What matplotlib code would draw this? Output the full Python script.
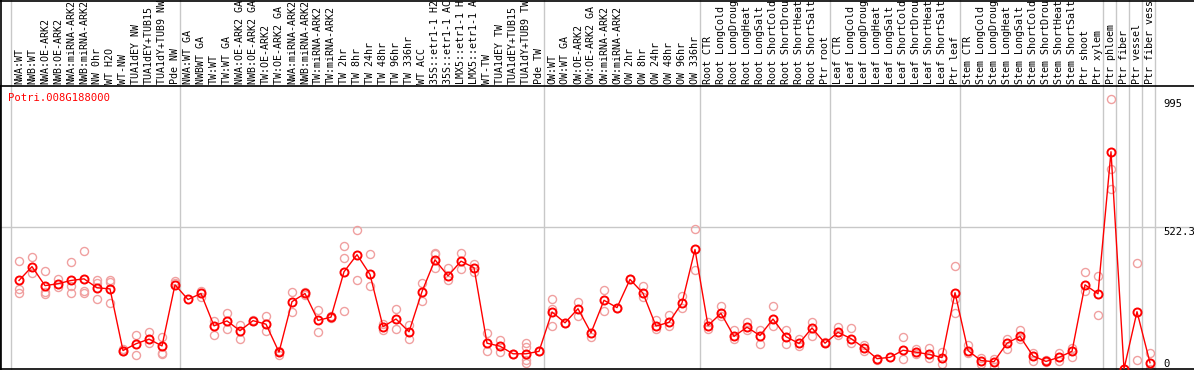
import matplotlib
matplotlib.use('Agg')
import matplotlib.pyplot as plt
from matplotlib.lines import Line2D
import matplotlib.transforms as mtransforms

gene = 'Potri.008G188000'

samples = ['NWA:WT', 'NWB:WT', 'NWA:OE-ARK2', 'NWB:OE-ARK2', 'NWA:miRNA-ARK2', 'NWB:miRNA-ARK2',
           'NW 0hr', 'WT H2O', 'WT-NW', 'TUA1dEY NW', 'TUA1dEY+TUB15', 'TUA1dY+TUB9 NW', 'Pde NW',
           'NWA:WT GA', 'NWBWT GA', 'TW:WT', 'TW:WT GA', 'NWA:OE-ARK2 GA', 'NWB:OE-ARK2 GA',
           'TW:OE-ARK2', 'TW:OE-ARK2 GA', 'NWA:miRNA-ARK2', 'NWB:miRNA-ARK2', 'TW:miRNA-ARK2',
           'TW:miRNA-ARK2', 'TW 2hr', 'TW 8hr', 'TW 24hr', 'TW 48hr', 'TW 96hr', 'TW 336hr', 'WT ACC',
           '35S::etr1-1 H2O', '35S::etr1-1 ACC', 'LMX5::etr1-1 H2O', 'LMX5::etr1-1 ACC', 'WT-TW',
           'TUA1dEY TW', 'TUA1dEY+TUB15', 'TUA1dY+TUB9 TW', 'Pde TW',
           'OW:WT', 'OW:WT GA', 'OW:OE-ARK2', 'OW:OE-ARK2 GA', 'OW:miRNA-ARK2', 'OW:miRNA-ARK2',
           'OW 2hr', 'OW 8hr', 'OW 24hr', 'OW 48hr', 'OW 96hr', 'OW 336hr',
           'Root CTR', 'Root LongCold', 'Root LongDrought', 'Root LongHeat', 'Root LongSalt',
           'Root ShortCold', 'Root ShortDrought', 'Root ShortHeat', 'Root ShortSalt', 'Ptr root',
           'Leaf CTR', 'Leaf LongCold', 'Leaf LongDrought', 'Leaf LongHeat', 'Leaf LongSalt',
           'Leaf ShortCold', 'Leaf ShortDrought', 'Leaf ShortHeat', 'Leaf ShortSalt', 'Ptr leaf',
           'Stem CTR', 'Stem LongCold', 'Stem LongDrought', 'Stem LongHeat', 'Stem LongSalt',
           'Stem ShortCold', 'Stem ShortDrought', 'Stem ShortHeat', 'Stem ShortSalt', 'Ptr shoot',
           'Ptr xylem', 'Ptr phloem', 'Ptr fiber', 'Ptr vessel', 'Ptr fiber vessel']

# index of first sample in each block (last entry = end)
group_starts = [0, 13, 41, 53, 63, 73, 84, 85, 86, 87, 88]

means = [326, 377, 307, 314, 326, 332, 299, 295, 68, 93, 110, 85, 310,
         256, 278, 159, 177, 141, 178, 165, 62, 248, 278, 179, 191, 358, 421, 348, 156, 184,
         137, 285, 402, 343, 397, 373, 95, 84, 56, 56, 65,
         210, 170, 222, 133, 253, 226, 330, 279, 158, 172, 243, 440,
         160, 205, 120, 154, 123, 184, 119, 94, 151, 95,
         135, 112, 78, 38, 43, 69, 62, 54, 42, 281,
         68, 31, 27, 95, 120, 48, 28, 43, 65, 310, 277,
         800, 0, 211, 23]

reps = [[399, 295, 280], [411, 354], [359, 285, 275], [330, 301], [393, 305, 280],
        [436, 286, 278], [328, 317, 258], [327, 320, 243], [72, 66], [125, 53],
        [136, 97], [119, 60, 56], [323, 318],
        [], [288, 265], [177, 125], [206, 149], [162, 112], [182], [196, 140], [52, 66],
        [285, 209], [282, 274], [219, 136], [195, 186], [454, 410, 215], [511, 328],
        [425, 306], [164, 144], [222, 147], [162, 110], [315, 251], [428, 422, 371],
        [371, 326], [428, 370], [388, 357], [132, 68], [107, 63], [56], [97, 80, 33, 21], [65],
        [258, 221, 159], [170], [248, 194], [117], [291, 212], [224], [330], [306, 264],
        [179, 146], [197, 157], [267, 226], [517, 363],
        [174, 148], [232, 194], [143, 110], [174, 142], [144, 93], [231, 159], [142, 93],
        [110, 85], [173, 121], [100],
        [156, 126], [152, 95], [90, 67], [32], [], [119, 36], [73, 54], [78, 42], [62, 19],
        [378, 258, 207],
        [89, 58], [40, 19], [38, 7], [110, 74], [142, 109], [59, 30], [34, 24], [59, 30],
        [78, 43], [358, 288], [341, 199],
        [995, 736, 663], [], [389, 32], [58, 0]]

yticks = [995, 522.3, 0]
ytick_labels = ['995', '522.3', '0']

W, H = 1194, 370
fig = plt.figure(figsize=(W / 100, H / 100), dpi=100)
fig.patch.set_facecolor('white')

top_px, bot_px = 86, 369
ax = fig.add_axes([0, (H - bot_px) / H, 1, (bot_px - top_px) / H])
ax.set_xlim(-19 / 13, (W - 19) / 13)
ax.set_ylim(0, 1042)
ax.set_xticks([])
ax.set_yticks([])
for s in ['left', 'top', 'bottom']:
    ax.spines[s].set_color('black')
    ax.spines[s].set_linewidth(1.2)
ax.spines['right'].set_visible(False)

mono = 'DejaVu Sans Mono'
trans = mtransforms.blended_transform_factory(ax.transData, ax.transAxes)

# block separators (run up through the label area)
for b in group_starts:
    ax.plot([b - 0.65, b - 0.65], [0, 1.32], color='#c8c8c8', lw=1,
            transform=trans, clip_on=False, zorder=0)
ax.axhline(522.3, color='#c8c8c8', lw=1, zorder=0)

# replicates
for i, r in enumerate(reps):
    ax.plot([i] * len(r), r, 'o', ms=5.8, mfc='none', mec='#f0a0a0', mew=1.0, zorder=2)

x = list(range(len(means)))
ax.plot(x, means, '-', color='red', lw=1, zorder=3)
ax.plot(x, means, 'o', ms=5.8, mfc='none', mec='red', mew=1.4, zorder=4)

# sample labels, cut to the width of the label strip like the original
for i, lab in enumerate(samples):
    ax.text(i, 1.008, lab[:14], rotation=90, ha='center', va='bottom', fontsize=7.2,
            family=mono, transform=trans, clip_on=False)

ax.text(8 / W, 0.958, gene, color='red', fontsize=7.6, family=mono,
        transform=ax.transAxes, va='center', ha='left')

# value labels on the right
tx = mtransforms.blended_transform_factory(ax.transAxes, ax.transData)
for v, lab in zip(yticks, ytick_labels):
    va = 'bottom' if v == 0 else 'top'
    ax.text(1163 / W, v, lab, fontsize=7.6, family=mono, transform=tx,
            va=va, ha='left')

# outer frame of the label strip
fig.add_artist(Line2D([0, 1], [1 - 0.6 / H, 1 - 0.6 / H], color='black', lw=1.2,
                      transform=fig.transFigure))
fig.add_artist(Line2D([0.6 / W, 0.6 / W], [0, 1], color='black', lw=1.2,
                      transform=fig.transFigure))

fig.savefig('out.png', dpi=100)
